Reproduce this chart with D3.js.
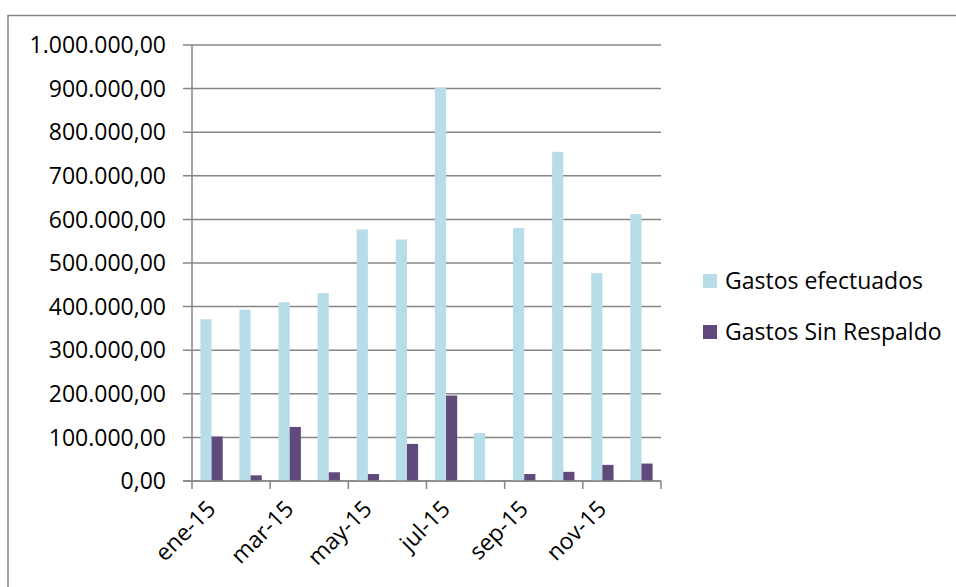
<!DOCTYPE html>
<html>
<head>
<meta charset="utf-8">
<script src="https://cdn.jsdelivr.net/npm/d3@7"></script>
<style>
  body { margin: 0; background: #fff; }
  text { font-family: "Open Sans", sans-serif; fill: #000; }
</style>
</head>
<body>
<div id="chart"></div>
<script>
var months = ["ene-15","feb-15","mar-15","abr-15","may-15","jun-15","jul-15","ago-15","sep-15","oct-15","nov-15","dic-15"];
var series = ["Gastos efectuados", "Gastos Sin Respaldo"];
var gastosEfectuados = [371000, 393000, 410000, 431000, 577000, 554000, 902000, 110000, 580000, 755000, 477000, 612000];
var gastosSinRespaldo = [102000, 13000, 124000, 20000, 16000, 85000, 196000, 0, 16000, 21000, 37000, 40000];
var yTicks = [0, 100000, 200000, 300000, 400000, 500000, 600000, 700000, 800000, 900000, 1000000];
var colors = ["#b7dde8", "#604a7b"];

var W = 956, H = 587;
var plot = {left: 192, right: 661, top: 45, bottom: 481};
var GRID = "#868686";
var FS = "23px";

var svg = d3.select("#chart").append("svg")
    .attr("width", W).attr("height", H);

// chart frame
svg.append("rect")
    .attr("x", 8).attr("y", 15.5)
    .attr("width", W + 20).attr("height", H + 20)
    .attr("fill", "none").attr("stroke", GRID).attr("stroke-width", 1.5);

var x = d3.scaleBand().domain(months).range([plot.left, plot.right]);
var x1 = d3.scaleBand().domain(series).range([0, x.bandwidth()]).paddingOuter(0.75);
var y = d3.scaleLinear().domain([0, 1000000]).range([plot.bottom, plot.top]);

var fmt = function(v) {
    var s = d3.format(",.2f")(v);
    return s.replace(/,/g, "#").replace(".", ",").replace(/#/g, ".");
};

// gridlines
svg.append("g").selectAll("line")
    .data(yTicks)
    .enter().append("line")
    .attr("x1", plot.left - 9).attr("x2", plot.right)
    .attr("y1", d => y(d)).attr("y2", d => y(d))
    .attr("stroke", GRID).attr("stroke-width", 1.5);

// y labels
svg.append("g").selectAll("text")
    .data(yTicks)
    .enter().append("text")
    .attr("x", 166).attr("y", d => y(d))
    .attr("dy", "0.36em")
    .attr("text-anchor", "end")
    .style("font-size", FS)
    .text(d => fmt(d));

// bars
var rows = months.map(function(m, i) {
    return {month: m, values: [gastosEfectuados[i], gastosSinRespaldo[i]]};
});
var groups = svg.append("g").selectAll("g")
    .data(rows)
    .enter().append("g")
    .attr("transform", d => "translate(" + x(d.month) + ",0)");
groups.selectAll("rect")
    .data(d => d.values.map((v, j) => ({s: series[j], v: v, j: j})))
    .enter().append("rect")
    .attr("x", d => x1(d.s))
    .attr("width", x1.bandwidth())
    .attr("y", d => y(d.v))
    .attr("height", d => y(0) - y(d.v))
    .attr("fill", d => colors[d.j]);

// axes lines
svg.append("line")
    .attr("x1", plot.left).attr("x2", plot.left)
    .attr("y1", plot.top).attr("y2", plot.bottom)
    .attr("stroke", GRID).attr("stroke-width", 1.5);
svg.append("line")
    .attr("x1", plot.left - 9).attr("x2", plot.right)
    .attr("y1", plot.bottom).attr("y2", plot.bottom)
    .attr("stroke", GRID).attr("stroke-width", 1.5);

// x ticks every two months
var tickPos = d3.range(0, months.length + 1, 2).map(i => plot.left + i * x.step());
svg.append("g").selectAll("line")
    .data(tickPos)
    .enter().append("line")
    .attr("x1", d => d).attr("x2", d => d)
    .attr("y1", plot.bottom).attr("y2", plot.bottom + 8)
    .attr("stroke", GRID).attr("stroke-width", 1.5);

// x labels
svg.append("g").selectAll("text")
    .data(months.filter((m, i) => i % 2 === 0))
    .enter().append("text")
    .attr("transform", d => "translate(" + (x(d) + x.bandwidth() / 2 - 6) + "," + (plot.bottom + 18) + ") rotate(-45)")
    .attr("text-anchor", "end")
    .attr("dy", "0.7em")
    .style("font-size", FS)
    .text(d => d);

// legend
var legend = svg.append("g").selectAll("g")
    .data(series)
    .enter().append("g")
    .attr("transform", (d, i) => "translate(703," + (274 + i * 51) + ")");
legend.append("rect")
    .attr("width", 14).attr("height", 14)
    .attr("fill", (d, i) => colors[i]);
legend.append("text")
    .attr("x", 22).attr("y", 7)
    .attr("dy", "0.36em")
    .style("font-size", FS)
    .text(d => d);
</script>
</body>
</html>
